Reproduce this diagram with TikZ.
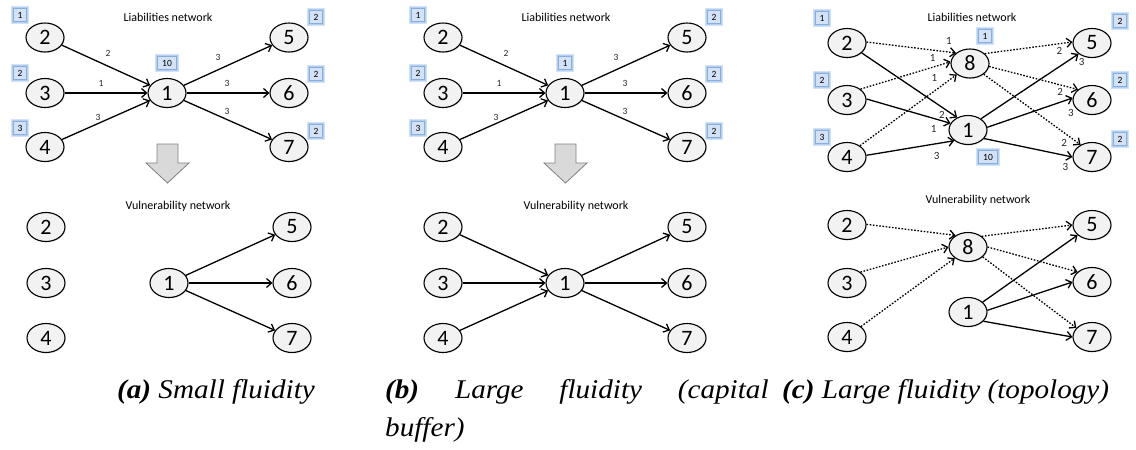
\documentclass[tikz,border=0pt]{standalone}
\usepackage{fontspec}
\usepackage{graphicx}
\newfontfamily\carlito{Carlito}
\newfontfamily\capfont{Liberation Serif}
\usetikzlibrary{shapes.geometric, arrows.meta, shadows}

\definecolor{ndfill}{HTML}{F2F2F2}
\definecolor{sqfill}{HTML}{D3E2F5}
\definecolor{sqedge}{HTML}{86AEE0}
\definecolor{sqglow}{HTML}{9CC1EE}
\definecolor{arrfill}{HTML}{D9D9D9}
\definecolor{arredge}{HTML}{7F7F7F}
\definecolor{lbltext}{HTML}{262626}

\tikzset{
  nd/.style={ellipse, draw=black, line width=1.1pt, fill=ndfill,
    minimum width=38pt, minimum height=29pt, inner sep=0pt,
    font=\carlito\fontsize{22}{22}\selectfont,
    drop shadow={shadow xshift=0.7pt, shadow yshift=-1pt, opacity=0.25}},
  sq/.style={draw=sqedge, fill=sqfill, line width=1pt,
    minimum width=13pt, minimum height=13pt, inner sep=1pt,
    font=\carlito\fontsize{9.5}{9.5}\selectfont,
    preaction={draw=sqglow, line width=5.5pt, opacity=0.45},
    preaction={draw=sqglow, line width=3pt, opacity=0.6}},
  sqwide/.style={sq, minimum width=19pt},
  title/.style={font=\carlito\fontsize{12}{12}\selectfont, inner sep=0pt},
  e/.style={line width=1.3pt, -{Straight Barb[length=5pt,width=9pt]}},
  dt/.style={e, dash pattern=on 1.6pt off 1.6pt},
  lbl/.style={font=\carlito\fontsize{9.5}{9.5}\selectfont, inner sep=0pt, text=lbltext},
  lblc/.style={lbl, font=\carlito\fontsize{11}{11}\selectfont},
  bigarrow/.style={fill=arrfill, draw=arredge, line width=0.8pt, line join=miter},
  captext/.style={font=\capfont\itshape\fontsize{27}{27}\selectfont, inner sep=0pt, anchor=base west},
}
% caption lines are set slightly wide
\newcommand\capline[1]{\scalebox{1.08}[1]{#1}}

% Star-shaped liabilities network: banks 2,3,4 lend to bank 1, which lends to 5,6,7
\newcommand\starnet[3]{%
  \begin{scope}[xshift=#2pt]
    \node[title] (#1-t) at (168,17) {Liabilities network};
    \node[nd] (#1-2) at (45,37.5) {2};
    \node[nd] (#1-3) at (45,93) {3};
    \node[nd] (#1-4) at (45,147) {4};
    \node[nd] (#1-1) at (167,93) {1};
    \node[nd] (#1-5) at (289,37.5) {5};
    \node[nd] (#1-6) at (289,93) {6};
    \node[nd] (#1-7) at (289,147) {7};
    \node[sq] (#1-s2) at (20,15) {1};
    \node[sq] (#1-s3) at (20,73) {2};
    \node[sq] (#1-s4) at (20,128) {3};
    \node[#3] (#1-s1) at (167,63) {\csname cap#1\endcsname};
    \node[sq] (#1-s5) at (316,17) {2};
    \node[sq] (#1-s6) at (316,74) {2};
    \node[sq] (#1-s7) at (316,131) {2};
    \draw[e] (#1-2) -- (#1-1) node[lbl, midway, xshift=2pt, yshift=12pt] {2};
    \draw[e] (#1-3) -- (#1-1) node[lbl, midway, xshift=-5pt, yshift=10pt] {1};
    \draw[e] (#1-4) -- (#1-1) node[lbl, midway, xshift=-8pt, yshift=3pt] {3};
    \draw[e] (#1-1) -- (#1-5) node[lbl, midway, xshift=-10pt, yshift=8pt] {3};
    \draw[e] (#1-1) -- (#1-6) node[lbl, midway, xshift=-1pt, yshift=10pt] {3};
    \draw[e] (#1-1) -- (#1-7) node[lbl, midway, xshift=-1pt, yshift=9pt] {3};
    % transition arrow
    \filldraw[bigarrow] (157,144) -- (178,144) -- (178,163) -- (189,163)
      -- (167.5,183) -- (146,163) -- (157,163) -- cycle;
  \end{scope}}
\newcommand\capa{10}
\newcommand\capb{1}

\begin{document}
\begin{tikzpicture}[x=1pt, y=-1pt]
\useasboundingbox (0,0) rectangle (1136,450);

% ---------- (a) small fluidity ----------
\starnet{a}{0}{sqwide}
\node[title] (av-t) at (178,206) {Vulnerability network};
\node[nd] (av2) at (46,227) {2};
\node[nd] (av3) at (46,283) {3};
\node[nd] (av4) at (46,338) {4};
\node[nd] (av1) at (169,283) {1};
\node[nd] (av5) at (292,227) {5};
\node[nd] (av6) at (292,283) {6};
\node[nd] (av7) at (292,338) {7};
\draw[e] (av1) -- (av5);
\draw[e] (av1) -- (av6);
\draw[e] (av1) -- (av7);

% ---------- (b) large fluidity, capital buffer ----------
\starnet{b}{398}{sq}
\node[title] (bv-t) at (576,206) {Vulnerability network};
\node[nd] (bv2) at (443,227) {2};
\node[nd] (bv3) at (443,283) {3};
\node[nd] (bv4) at (443,338) {4};
\node[nd] (bv1) at (565,283) {1};
\node[nd] (bv5) at (687,227) {5};
\node[nd] (bv6) at (687,283) {6};
\node[nd] (bv7) at (687,338) {7};
\draw[e] (bv2) -- (bv1);
\draw[e] (bv3) -- (bv1);
\draw[e] (bv4) -- (bv1);
\draw[e] (bv1) -- (bv5);
\draw[e] (bv1) -- (bv6);
\draw[e] (bv1) -- (bv7);

% ---------- (c) large fluidity, topology ----------
\node[title] (c-t) at (972,17) {Liabilities network};
\node[nd] (c2) at (847,43) {2};
\node[nd] (c3) at (847,100) {3};
\node[nd] (c4) at (847,157) {4};
\node[nd] (c8) at (970,63.5) {8};
\node[nd] (c1) at (968,130) {1};
\node[nd] (c5) at (1092,43) {5};
\node[nd] (c6) at (1092,100) {6};
\node[nd] (c7) at (1092,157) {7};
\node[sq] (c-s2) at (822,18) {1};
\node[sq] (c-s3) at (822,80) {2};
\node[sq] (c-s4) at (822,137) {3};
\node[sq] (c-s8) at (985,36) {1};
\node[sqwide] (c-s1) at (988,157) {10};
\node[sq] (c-s5) at (1120,21) {2};
\node[sq] (c-s6) at (1120,80) {2};
\node[sq] (c-s7) at (1120,139) {2};

\draw[dt] (c2.3) -- (c8.143) node[lblc, pos=.92, yshift=11pt] {1};
\draw[dt] (c3.39) -- (c8.175) node[lblc, pos=.8, yshift=9pt] {1};
\draw[dt] (c4.41) -- (c8.220) node[lblc, pos=.8, xshift=-3pt, yshift=11pt] {1};
\draw[dt] (c8.34) -- (c5.177) node[lblc, pos=.85, yshift=-7pt] {2};
\draw[dt] (c8.351) -- (c6.143) node[lblc, pos=.8, yshift=-7pt] {2};
\draw[dt] (c8.322) -- (c7.133) node[lblc, pos=.83, yshift=-10pt] {2};
\draw[e] (c2.326) -- (c1.131) node[lblc, pos=.84, yshift=-8pt] {2};
\draw[e] (c3.3) -- (c1.159) node[lblc, pos=.8, yshift=-11pt] {1};
\draw[e] (c4.5) -- (c1.218) node[lblc, pos=.8, yshift=-12pt] {3};
\draw[e] (c1.41) -- (c5.219) node[lblc, pos=1, xshift=3pt, yshift=-8pt] {3};
\draw[e] (c1.8) -- (c6.174) node[lblc, pos=.98, yshift=-14pt] {3};
\draw[e] (c1.332) -- (c7.180) node[lblc, pos=.92, yshift=-11pt] {3};

\node[title] (cv-t) at (978,200) {Vulnerability network};
\node[nd] (cv2) at (847,225) {2};
\node[nd] (cv3) at (847,283) {3};
\node[nd] (cv4) at (847,337) {4};
\node[nd] (cv8) at (968,247) {8};
\node[nd] (cv1) at (968,312) {1};
\node[nd] (cv5) at (1092,225) {5};
\node[nd] (cv6) at (1092,282) {6};
\node[nd] (cv7) at (1092,337) {7};
\draw[dt] (cv2.2) -- (cv8.137);
\draw[dt] (cv3.39) -- (cv8.180);
\draw[dt] (cv4.37) -- (cv8.220);
\draw[dt] (cv8.38) -- (cv5.180);
\draw[dt] (cv8.0) -- (cv6.145);
\draw[dt] (cv8.326) -- (cv7.150);
\draw[e] (cv1.34) -- (cv5.215);
\draw[e] (cv1.5) -- (cv6.180);
\draw[e] (cv1.329) -- (cv7.180);

% ---------- captions ----------
\node[captext] (capA) at (117,398) {\capline{\textbf{(a)} Small fluidity}};
\node[captext] (capB1) at (385,398) {\capline{\hbox to 355pt{\textbf{(b)}\hfill Large\hfill fluidity\hfill (capital}}};
\node[captext] (capB2) at (385,436) {\capline{buffer)}};
\node[captext] (capC) at (782,398) {\capline{\textbf{(c)} Large fluidity (topology)}};
\end{tikzpicture}
\end{document}
